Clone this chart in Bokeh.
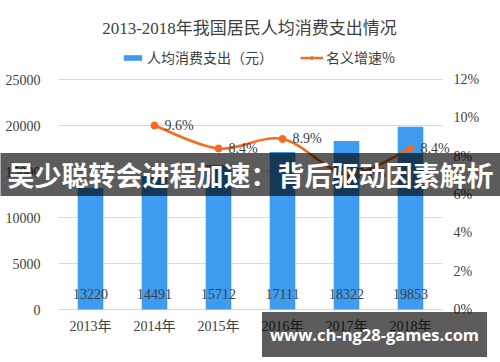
from bokeh.plotting import figure
from bokeh.models import (Range1d, LinearAxis, FixedTicker, Label, LabelSet,
                          ColumnDataSource, Legend, LegendItem, PrintfTickFormatter)
from bokeh.embed import file_html
from bokeh.resources import INLINE

# ---- data ----
years = ["2013年", "2014年", "2015年", "2016年", "2017年", "2018年"]
spending = [13220, 14491, 15712, 17111, 18322, 19853]
growth_years = ["2014年", "2015年", "2016年", "2017年", "2018年"]
growth = [9.6, 8.4, 8.9, 7.1, 8.4]
left_ticks = [0, 5000, 10000, 15000, 20000, 25000]
right_ticks = [0, 2, 4, 6, 8, 10, 12]

title_text = "2013-2018年我国居民人均消费支出情况"
bar_name = "人均消费支出（元）"
line_name = "名义增速%"
banner_text = "吴少聪转会进程加速：背后驱动因素解析"
site_text = "www.ch-ng28-games.com"

BLUE = "#3E9CF0"
ORANGE = "#FA6A1E"
TXT = "#404040"
GRID = "#D9D9D9"
SERIF = "'Liberation Serif', 'Noto Sans CJK SC'"
CJK = "Noto Sans CJK SC"

# ---- layout (pixels) ----
W, H = 500, 362
PL, PR, PT, PB = 58, 442, 79, 309      # plot area of the chart inside the canvas
ncat = len(years)
kx = (PR - PL) / ncat
ky = (PB - PT) / (left_ticks[-1] - left_ticks[0])
kr = (PB - PT) / (right_ticks[-1] - right_ticks[0])

x_range = Range1d(-PL / kx, ncat + (W - PR) / kx)
y_range = Range1d(left_ticks[0] - (H - PB) / ky, left_ticks[-1] + PT / ky)
r_range = Range1d(right_ticks[0] - (H - PB) / kr, right_ticks[-1] + PT / kr)

p = figure(width=W, height=H, x_range=x_range, y_range=y_range,
           output_backend="svg", toolbar_location=None,
           min_border_left=0, min_border_right=0, min_border_top=0, min_border_bottom=0)
p.extra_y_ranges = {"pct": r_range}
p.outline_line_color = None
p.xgrid.visible = False
p.ygrid.visible = False


def style_axis(ax, standoff):
    ax.axis_line_color = None
    ax.major_tick_line_color = None
    ax.minor_tick_line_color = None
    ax.major_tick_out = 0
    ax.major_tick_in = 0
    ax.minor_tick_out = 0
    ax.minor_tick_in = 0
    ax.major_label_standoff = standoff
    ax.major_label_text_font = SERIF
    ax.major_label_text_font_size = "14px"
    ax.major_label_text_color = TXT


pos = {y: i + 0.5 for i, y in enumerate(years)}
xb = [pos[y] for y in years]
xg = [pos[y] for y in growth_years]

xa = p.xaxis[0]
xa.ticker = FixedTicker(ticks=xb)
xa.major_label_overrides = {pos[y]: y for y in years}
style_axis(xa, -(H - 318))

ya = p.yaxis[0]
ya.ticker = FixedTicker(ticks=left_ticks)
style_axis(ya, -40)

ra = LinearAxis(y_range_name="pct", ticker=FixedTicker(ticks=right_ticks),
                formatter=PrintfTickFormatter(format="%d%%"))
style_axis(ra, -(W - 453))
p.add_layout(ra, "right")

# horizontal gridlines across the chart area
p.segment(x0=[0] * len(left_ticks), x1=[ncat] * len(left_ticks),
          y0=left_ticks, y1=left_ticks, line_color=GRID, line_width=1)

# bars
bsrc = ColumnDataSource(dict(x=xb, top=spending, lab=[str(v) for v in spending],
                             base=[0] * len(spending)))
bars = p.vbar(x="x", top="top", width=0.4, source=bsrc, fill_color=BLUE, line_color=None)
p.add_layout(LabelSet(x="x", y="base", text="lab", source=bsrc, y_offset=16,
                      text_align="center", text_baseline="middle",
                      text_font=SERIF, text_font_size="14px", text_color=TXT))

# smoothed growth line (Catmull-Rom -> cubic Bezier through the data points)
n = len(growth)
x0, y0, x1, y1, cx0, cy0, cx1, cy1 = [], [], [], [], [], [], [], []
for i in range(n - 1):
    im = max(i - 1, 0)
    ip = min(i + 2, n - 1)
    x0.append(xg[i]); y0.append(growth[i])
    x1.append(xg[i + 1]); y1.append(growth[i + 1])
    cx0.append(xg[i] + (xg[i + 1] - xg[im]) / 6)
    cy0.append(growth[i] + (growth[i + 1] - growth[im]) / 6)
    cx1.append(xg[i + 1] - (xg[ip] - xg[i]) / 6)
    cy1.append(growth[i + 1] - (growth[ip] - growth[i]) / 6)
p.bezier(x0=x0, y0=y0, x1=x1, y1=y1, cx0=cx0, cy0=cy0, cx1=cx1, cy1=cy1,
         y_range_name="pct", line_color=ORANGE, line_width=2.5)
gsrc = ColumnDataSource(dict(x=xg, y=growth, lab=[f"{g:.1f}%" for g in growth]))
pts = p.scatter(x="x", y="y", source=gsrc, size=7, color=ORANGE, y_range_name="pct")
# single-point line: draws nothing on the chart, gives the legend its line swatch
legend_line = p.line(x=xg[:1], y=growth[:1], line_color=ORANGE, line_width=2.5,
                     y_range_name="pct")
p.add_layout(LabelSet(x="x", y="y", text="lab", source=gsrc, y_range_name="pct",
                      x_offset=10, text_align="left", text_baseline="middle",
                      text_font=SERIF, text_font_size="14px", text_color=TXT))

# legend (screen position relative to the canvas, y measured from the bottom)
legend = Legend(items=[LegendItem(label=bar_name, renderers=[bars]),
                       LegendItem(label=line_name, renderers=[legend_line, pts])],
                location=(121, H - 67), orientation="horizontal", padding=0, spacing=27,
                label_standoff=3, glyph_width=23, glyph_height=7, label_height=14,
                border_line_color=None, background_fill_alpha=0,
                label_text_font=CJK, label_text_font_size="14px",
                label_text_color=TXT)
p.add_layout(legend)

# title
p.add_layout(Label(x=249, y=H - 28, x_units="screen", y_units="screen", text=title_text,
                   text_align="center", text_baseline="middle", text_font=SERIF,
                   text_font_size="17px", text_color=TXT))

# overlay banner and site tag
p.add_layout(Label(x=250, y=H - 174, x_units="screen", y_units="screen", text=banner_text,
                   text_align="center", text_baseline="middle", text_font=CJK,
                   text_font_style="bold", text_font_size="27px", text_color="white",
                   background_fill_color="black", background_fill_alpha=0.64,
                   padding=(12, 2)))
p.add_layout(Label(x=374, y=H - 334, x_units="screen", y_units="screen", text=site_text,
                   text_align="center", text_baseline="middle", text_font="Open Sans",
                   text_font_style="bold", text_font_size="16.5px", text_color="white",
                   background_fill_color="black", background_fill_alpha=0.64,
                   padding=(8, 11)))

open("out.html", "w").write(file_html(p, INLINE))
